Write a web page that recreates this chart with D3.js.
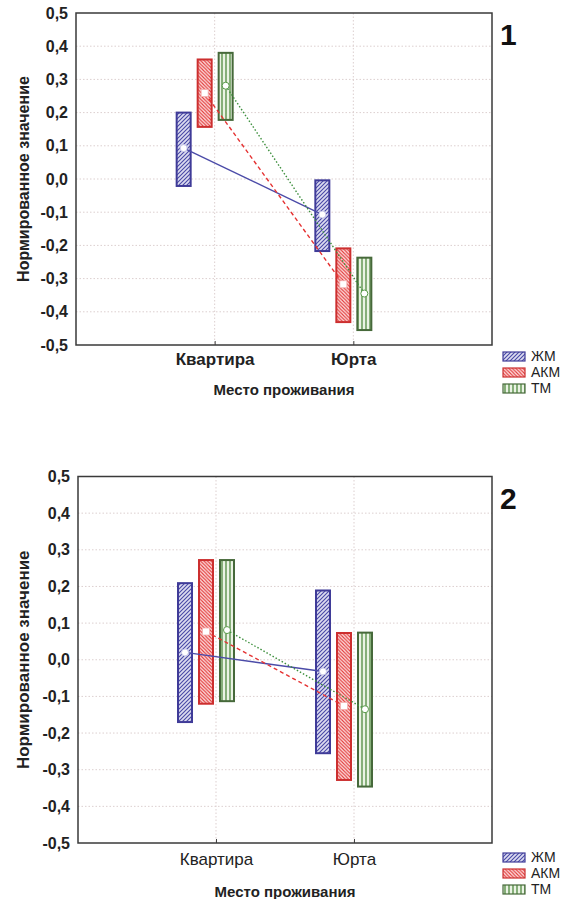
<!DOCTYPE html>
<html>
<head>
<meta charset="utf-8">
<script src="https://cdn.jsdelivr.net/npm/d3@7"></script>
<style>
  body { margin: 0; background: #fff; }
  svg { display: block; font-family: "Liberation Sans", Arial, sans-serif; }
</style>
</head>
<body>
<div class="chart"></div>
<script>
// categories and series
const categories = ["Квартира", "Юрта"];
const seriesNames = ["ЖМ", "АКМ", "ТМ"];
const yTicks = d3.range(-5, 6).map(i => i / 10);

// panel 1: mean, upper, lower per series (Квартира, Юрта)
const p1Mean  = { "ЖМ": [0.093, -0.107], "АКМ": [0.259, -0.317], "ТМ": [0.281, -0.345] };
const p1Upper = { "ЖМ": [0.200, -0.004], "АКМ": [0.360, -0.209], "ТМ": [0.380, -0.237] };
const p1Lower = { "ЖМ": [-0.021, -0.217], "АКМ": [0.157, -0.431], "ТМ": [0.178, -0.455] };

// panel 2
const p2Mean  = { "ЖМ": [0.020, -0.032], "АКМ": [0.077, -0.126], "ТМ": [0.081, -0.135] };
const p2Upper = { "ЖМ": [0.209, 0.189], "АКМ": [0.272, 0.073], "ТМ": [0.272, 0.074] };
const p2Lower = { "ЖМ": [-0.170, -0.255], "АКМ": [-0.120, -0.328], "ТМ": [-0.113, -0.346] };

const width = 570, height = 899;
const ru = d3.formatLocale({ decimal: ",", thousands: " ", grouping: [3], currency: ["", ""], minus: "-" });
const fmt = ru.format(".1f");

const style = {
    "ЖМ":  { stroke: "#3f3b98", line: "#4b4ba8", dash: null, pat: "patJM", marker: "circle" },
    "АКМ": { stroke: "#cc2f2f", line: "#e53232", dash: "4,3", pat: "patAKM", marker: "square" },
    "ТМ":  { stroke: "#46693a", line: "#3d8f3d", dash: "1.5,2", pat: "patTM", marker: "circle" }
};

const svg = d3.select(".chart").append("svg")
    .attr("width", width)
    .attr("height", height);

const defs = svg.append("defs");
let p = defs.append("pattern").attr("id", "patJM").attr("patternUnits", "userSpaceOnUse")
    .attr("width", 4).attr("height", 4);
p.append("rect").attr("width", 4).attr("height", 4).attr("fill", "#dcdcf0");
p.append("path").attr("d", "M-1,1 l2,-2 M0,4 l4,-4 M3,5 l2,-2")
    .attr("stroke", "#4848a6").attr("stroke-width", 1.1);

p = defs.append("pattern").attr("id", "patAKM").attr("patternUnits", "userSpaceOnUse")
    .attr("width", 3.5).attr("height", 3.5);
p.append("rect").attr("width", 3.5).attr("height", 3.5).attr("fill", "#fde2e2");
p.append("path").attr("d", "M-1,2.5 l2,2 M0,0 l3.5,3.5 M2.5,-1 l2,2")
    .attr("stroke", "#e23a3a").attr("stroke-width", 1.1);

p = defs.append("pattern").attr("id", "patTM").attr("patternUnits", "userSpaceOnUse")
    .attr("width", 4).attr("height", 4);
p.append("rect").attr("width", 4).attr("height", 4).attr("fill", "#eaf3e4");
p.append("line").attr("x1", 2).attr("x2", 2).attr("y1", 0).attr("y2", 4)
    .attr("stroke", "#4f8a3f").attr("stroke-width", 1.3);

function panel(cfg) {
    const g = svg.append("g");

    const x = d3.scalePoint()
        .domain(categories)
        .range([cfg.left, cfg.right])
        .padding(1);

    const off = d3.scalePoint()
        .domain(seriesNames)
        .range([-31, 11]);

    const y = d3.scaleLinear()
        .domain([-0.5, 0.5])
        .range([cfg.bottom, cfg.top]);

    // grid
    g.append("g")
        .selectAll("line")
        .data(yTicks.slice(1, -1))
        .join("line")
        .attr("x1", cfg.left).attr("x2", cfg.right)
        .attr("y1", d => y(d)).attr("y2", d => y(d))
        .attr("stroke", "#dccfcf").attr("stroke-dasharray", "1.5,2");
    g.append("g")
        .selectAll("line")
        .data(categories)
        .join("line")
        .attr("x1", d => x(d)).attr("x2", d => x(d))
        .attr("y1", cfg.top).attr("y2", cfg.bottom)
        .attr("stroke", "#dccfcf").attr("stroke-dasharray", "1.5,2");

    // y axis
    g.append("g")
        .attr("transform", `translate(${cfg.left},0)`)
        .call(d3.axisLeft(y).tickValues(yTicks).tickFormat(fmt).tickSize(0).tickPadding(8))
        .call(a => a.select(".domain").remove())
        .call(a => a.selectAll("text")
            .attr("font-size", 16).attr("font-weight", "bold")
            .attr("font-family", "Liberation Sans, Arial, sans-serif").attr("fill", "#222"));

    // x axis
    g.append("g")
        .attr("transform", `translate(0,${cfg.bottom})`)
        .call(d3.axisBottom(x).tickSize(-4).tickPadding(cfg.xPad))
        .call(a => a.select(".domain").remove())
        .call(a => a.selectAll("line").attr("stroke", "#444"))
        .call(a => a.selectAll("text")
            .attr("font-size", 17).attr("font-weight", cfg.catBold ? "bold" : "normal")
            .attr("font-family", "Liberation Sans, Arial, sans-serif").attr("fill", "#222"));

    // frame
    g.append("rect")
        .attr("x", cfg.left).attr("y", cfg.top)
        .attr("width", cfg.right - cfg.left).attr("height", cfg.bottom - cfg.top)
        .attr("fill", "none").attr("stroke", "#3a3a3a").attr("stroke-width", 1.5);

    // titles
    g.append("text")
        .attr("transform", `translate(${cfg.yTitleX},${(cfg.top + cfg.bottom) / 2}) rotate(-90)`)
        .attr("text-anchor", "middle")
        .attr("font-size", cfg.yTitleSize).attr("font-weight", "bold").attr("fill", "#222")
        .text("Нормированное значение");
    g.append("text")
        .attr("x", (cfg.left + cfg.right) / 2).attr("y", cfg.xTitleY)
        .attr("text-anchor", "middle")
        .attr("font-size", 15).attr("font-weight", "bold").attr("fill", "#222")
        .text("Место проживания");
    g.append("text")
        .attr("x", 500).attr("y", cfg.top + 32)
        .attr("font-size", 30).attr("font-weight", "bold").attr("fill", "#111")
        .text(cfg.num);

    // boxes
    const rows = [];
    seriesNames.forEach(s => categories.forEach((c, i) => {
        rows.push({ s, c, mean: cfg.mean[s][i], hi: cfg.upper[s][i], lo: cfg.lower[s][i] });
    }));

    g.append("g")
        .selectAll("rect")
        .data(rows)
        .join("rect")
        .attr("x", d => x(d.c) + off(d.s) - 7)
        .attr("y", d => y(d.hi))
        .attr("width", 14)
        .attr("height", d => y(d.lo) - y(d.hi))
        .attr("fill", d => `url(#${style[d.s].pat})`)
        .attr("stroke", d => style[d.s].stroke)
        .attr("stroke-width", 2);

    // mean lines
    seriesNames.forEach(s => {
        const pts = categories.map((c, i) => [x(c) + off(s), y(cfg.mean[s][i])]);
        g.append("path")
            .attr("d", d3.line()(pts))
            .attr("fill", "none")
            .attr("stroke", style[s].line)
            .attr("stroke-width", 1.4)
            .attr("stroke-dasharray", style[s].dash);
    });

    // markers
    rows.forEach(d => {
        const cx = x(d.c) + off(d.s), cy = y(d.mean);
        if (style[d.s].marker === "square") {
            g.append("rect").attr("x", cx - 3.5).attr("y", cy - 3.5)
                .attr("width", 7).attr("height", 7)
                .attr("fill", "#fff").attr("stroke", "#f3b0b0").attr("stroke-width", 0.8);
        } else {
            g.append("circle").attr("cx", cx).attr("cy", cy).attr("r", 3.5)
                .attr("fill", "#fff").attr("stroke", d.s === "ТМ" ? "#5a9a4a" : "#c8c8e8")
                .attr("stroke-width", 1);
        }
    });

    // legend
    const lg = g.append("g").attr("transform", `translate(503,${cfg.legendY})`);
    seriesNames.forEach((s, i) => {
        lg.append("rect")
            .attr("x", 0).attr("y", i * 16)
            .attr("width", 22).attr("height", 9)
            .attr("fill", `url(#${style[s].pat})`)
            .attr("stroke", style[s].stroke).attr("stroke-width", 1.2);
        lg.append("text")
            .attr("x", 28).attr("y", i * 16 + 9)
            .attr("font-size", 14).attr("fill", "#222")
            .text(s);
    });
}

panel({ num: "1", top: 13, bottom: 345, left: 76, right: 492, xPad: 8, catBold: true,
    yTitleX: 29, yTitleSize: 16, xTitleY: 395, legendY: 352,
    mean: p1Mean, upper: p1Upper, lower: p1Lower });

panel({ num: "2", top: 476.5, bottom: 843, left: 78, right: 492, xPad: 10, catBold: false,
    yTitleX: 29, yTitleSize: 17, xTitleY: 897, legendY: 853,
    mean: p2Mean, upper: p2Upper, lower: p2Lower });
</script>
</body>
</html>
